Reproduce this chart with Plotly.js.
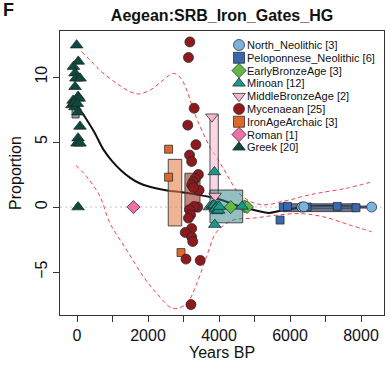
<!DOCTYPE html>
<html><head><meta charset="utf-8">
<script src="https://cdn.plot.ly/plotly-3.0.1.min.js"></script>
<style>html,body{margin:0;padding:0;background:#fff;}#chart{width:392px;height:368px;}</style>
</head><body><div id="chart"></div>
<script>
// ---- categories / legend ----
const groups = ["North_Neolithic","Peloponnese_Neolithic","EarlyBronzeAge","Minoan","MiddleBronzeAge","Mycenaean","IronAgeArchaic","Roman","Greek"];
const counts = [3, 6, 3, 12, 2, 25, 3, 1, 20];
const symbols = ["circle","square","diamond","triangle-up","triangle-down","circle","square","diamond","triangle-up"];
const colors = ["#7ab3de","#3a68ad","#62b946","#179a8c","#f6b5cd","#8e1a1e","#e0672c","#ee6fa9","#0c4a3f"];
const markerSizes = [10, 8, 10, 11, 11, 10, 8, 10, 11];

// ---- sample values (years BP, proportion) ----
const northNeoX = [6330, 6390, 8300];
const northNeoY = [0.0, 0.02, 0.0];
const peloX = [5810, 5930, 6480, 7330, 7860, 5720];
const peloY = [0.0, 0.05, 0.0, 0.05, -0.05, -1.0];
const ebaX = [4330, 4720, 4790];
const ebaY = [0.0, 0.05, 0.0];
const minoanX = [3870, 3730, 3820, 3870, 3920, 3970, 3900, 3940, 3990, 4010, 4650, 3880];
const minoanY = [2.7, 0.0, 0.12, 0.15, 0.0, 0.08, -0.12, -0.3, -0.25, 0.03, 0.05, -1.35];
const mbaX = [3800, 3890];
const mbaY = [6.95, 0.85];
const mycX = [3180, 3140, 3300, 3120, 3350, 3170, 3230, 3420, 3330, 3270, 3230, 3440, 3280, 3400, 3300, 3170, 3200, 3140, 3230, 3050, 3230, 3260, 3070, 3470, 3210];
const mycY = [12.7, 11.5, 7.6, 6.3, 4.8, 4.0, 3.5, 2.5, 2.2, 1.95, 1.7, 1.3, 1.5, 0.0, 0.05, -0.2, -0.6, -0.85, -1.65, -1.95, -2.3, -2.65, -4.0, -4.1, -7.5];
const ironX = [2580, 2580, 2930];
const ironY = [4.45, 2.3, -3.5];
const romanX = [1590];
const romanY = [0.0];
const greekX = [-10, 35, -100, -55, -30, 85, -55, 30, -110, 60, -140, -55, 30, 85, 30, 0, 85, 30, -80, 10];
const greekY = [12.45, 11.2, 10.8, 10.3, 9.9, 9.9, 9.25, 8.5, 8.2, 8.35, 7.85, 7.7, 7.3, 6.2, 5.3, 4.9, 4.9, 0.0, 8.0, 7.95];

const groupX = [northNeoX, peloX, ebaX, minoanX, mbaX, mycX, ironX, romanX, greekX];
const groupY = [northNeoY, peloY, ebaY, minoanY, mbaY, mycY, ironY, romanY, greekY];

// ---- group boxes: [xmin, xmax, ymin, ymax] ----
const boxGroups = ["Greek","IronAgeArchaic","Mycenaean","MiddleBronzeAge","Minoan","Peloponnese_Neolithic","North_Neolithic"];
const boxRanges = [
  [-140, 60, 6.85, 8.4],
  [2570, 2950, -1.45, 3.67],
  [3040, 3465, -0.36, 2.6],
  [3746, 3980, 0.7, 7.1],
  [3746, 4668, -1.21, 1.31],
  [5800, 7890, -0.35, 0.25],
  [6330, 8300, -0.08, 0.08]
];
const boxFills = ["rgba(70,90,85,0.6)","rgba(228,130,80,0.6)","rgba(160,60,40,0.62)","rgba(247,180,205,0.55)","rgba(40,130,130,0.5)","rgba(40,60,100,0.7)","rgba(120,170,220,0.5)"];

// ---- fitted curve and confidence band ----
const fitX = [-50, 100, 300, 500, 750, 1000, 1250, 1500, 1750, 2000, 2500, 3000, 3500, 4000, 4400, 4800, 5100, 5400, 5700, 6000, 6500, 7000, 7500, 8000, 8300];
const fitY = [7.75, 7.4, 6.6, 5.7, 4.4, 3.5, 2.8, 2.25, 1.85, 1.6, 1.3, 1.12, 0.9, 0.6, 0.23, -0.08, -0.3, -0.45, -0.3, -0.15, 0.02, 0.08, 0.05, 0.0, 0.0];
const upperX = [130, 460, 650, 1120, 1500, 1730, 2060, 2430, 2710, 2900, 3090, 3280, 3470, 3750, 4030, 4200, 4550, 4870, 5150, 5440, 5720, 6000, 6400, 6850, 7600, 8250];
const upperY = [11.95, 11.05, 10.5, 9.5, 8.87, 8.7, 9.0, 9.77, 10.28, 10.0, 9.0, 7.46, 6.18, 4.6, 3.4, 2.6, 1.1, 0.45, 0.2, 0.2, 0.4, 0.55, 0.85, 1.1, 1.45, 1.9];
const lowerX = [-30, 270, 650, 930, 1400, 1870, 2250, 2710, 3090, 3370, 3650, 3935, 4400, 4970, 5630, 6280, 6940, 7690, 8300];
const lowerY = [3.2, 2.35, 0.8, -1.25, -3.3, -5.35, -6.65, -7.8, -7.4, -5.9, -3.8, -1.9, -1.0, -0.85, -0.62, -0.5, -0.75, -1.38, -1.9];

const xTicks = [0, 1000, 2000, 3000, 4000, 5000, 6000, 7000, 8000];
const xTickText = ["0", "", "2000", "", "4000", "", "6000", "", "8000"];
const yTicks = [-5, 0, 5, 10];

const FONT = "Liberation Sans, Arial, Helvetica, sans-serif";
const traces = [];

traces.push({x: upperX, y: upperY, mode: "lines", line: {shape: "spline", color: "rgba(240,45,55,0.9)", width: 1, dash: "4px,3px"}, showlegend: false, hoverinfo: "skip"});
traces.push({x: lowerX, y: lowerY, mode: "lines", line: {shape: "spline", color: "rgba(240,45,55,0.9)", width: 1, dash: "4px,3px"}, showlegend: false, hoverinfo: "skip"});
traces.push({x: fitX, y: fitY, mode: "lines", line: {shape: "spline", color: "#111", width: 2}, showlegend: false, hoverinfo: "skip"});

boxRanges.forEach((b, i) => {
  traces.push({
    x: [b[0], b[1], b[1], b[0], b[0]],
    y: [b[2], b[2], b[3], b[3], b[2]],
    mode: "lines", fill: "toself", fillcolor: boxFills[i],
    line: {color: "rgba(50,50,50,0.85)", width: 1},
    showlegend: false, hoverinfo: "skip", name: boxGroups[i]
  });
});

// plot order: Roman, IronAge, Pelo, NNeo, EBA, MBA, Minoan, Myc, Greek
const drawOrder = [7, 6, 1, 0, 2, 4, 3, 5, 8];
drawOrder.forEach(i => {
  traces.push({
    x: groupX[i], y: groupY[i], mode: "markers", name: groups[i],
    marker: {symbol: symbols[i], size: markerSizes[i], color: colors[i], line: {color: "rgba(35,35,35,0.9)", width: 0.8}},
    showlegend: false
  });
});

// manual legend (compact spacing) on an overlay axis: row index -> y
const legendIdx = groups.map((g, i) => i);
groups.forEach((g, i) => {
  traces.push({
    x: [0.5525], y: [legendIdx[i]], xaxis: "x2", yaxis: "y2", mode: "markers",
    marker: {symbol: symbols[i], size: 11, color: colors[i], line: {color: "rgba(35,35,35,0.9)", width: 0.8}},
    showlegend: false, hoverinfo: "skip"
  });
});
const annotations = groups.map((g, i) => ({
  xref: "x2", yref: "y2", x: 0.572, y: legendIdx[i], xanchor: "left", yanchor: "middle",
  text: g + " [" + counts[i] + "]", showarrow: false, font: {family: FONT, size: 11, color: "#111"}
}));
annotations.push({xref: "paper", yref: "paper", x: -0.16, y: 1.075, xanchor: "center", yanchor: "middle",
  text: "<b>F</b>", showarrow: false, font: {family: FONT, size: 18, color: "#111"}});

const layout = {
  width: 392, height: 368,
  margin: {l: 60, r: 8, t: 31, b: 53},
  paper_bgcolor: "#fff", plot_bgcolor: "#fff",
  font: {family: FONT, color: "#111"},
  title: {text: "<b>Aegean:SRB_Iron_Gates_HG</b>", font: {family: FONT, size: 16, color: "#111"}, x: 0.5, xref: "paper", y: 0.957, yanchor: "middle"},
  xaxis: {
    range: [-479, 8648], tickvals: xTicks, ticktext: xTickText, ticks: "outside", ticklen: 6, tickwidth: 1, tickcolor: "#333",
    showline: true, linecolor: "#333", linewidth: 1, mirror: true, showgrid: false, zeroline: false,
    tickfont: {family: FONT, size: 16, color: "#111"},
    title: {text: "Years BP", font: {family: FONT, size: 16, color: "#111"}, standoff: 2}
  },
  yaxis: {
    range: [-8.3, 13.54], tickvals: yTicks, tickangle: -90, ticks: "outside", ticklen: 6, tickwidth: 1, tickcolor: "#333",
    showline: true, linecolor: "#333", linewidth: 1, mirror: true, showgrid: false, zeroline: false,
    tickfont: {family: FONT, size: 16, color: "#111"},
    title: {text: "Proportion", font: {family: FONT, size: 16, color: "#111"}, standoff: 6}
  },
  xaxis2: {domain: [0, 1], range: [0, 1], visible: false, anchor: "y2", overlaying: "x", fixedrange: true},
  yaxis2: {domain: [0, 1], range: [21.11, -1.095], visible: false, anchor: "x2", overlaying: "y", fixedrange: true},
  shapes: [{type: "line", xref: "paper", x0: 0, x1: 1, yref: "y", y0: 0, y1: 0, line: {color: "#c4c4c4", width: 1, dash: "2px,3px"}, layer: "below"}],
  annotations: annotations,
  showlegend: false
};

Plotly.newPlot("chart", traces, layout, {staticPlot: true, displayModeBar: false});
</script></body></html>
